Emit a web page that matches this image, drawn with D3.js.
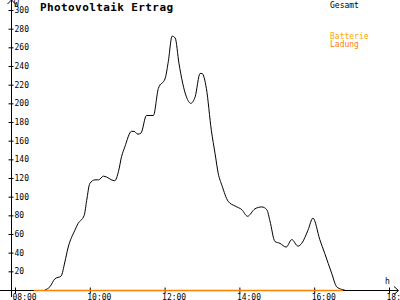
<!DOCTYPE html>
<html>
<head>
<meta charset="utf-8">
<style>
  body { margin: 0; background: #fff; }
  svg { display: block; }
  text { font-family: "DejaVu Sans Mono", monospace; }
</style>
</head>
<body>
<div id="graph"></div>
<script src="https://d3js.org/d3.v7.min.js"></script>
<script>
// Daten
const zeiten = ["08:48","08:56","09:04","09:14","09:20","09:25","09:36","09:41","09:51","09:55",
  "10:00","10:08","10:14","10:22","10:40","10:46","10:51","10:56","11:07","11:11",
  "11:17","11:22","11:31","11:42","11:50","12:01","12:06","12:12","12:17","12:23",
  "12:35","12:42","12:49","12:57","13:00","13:07","13:15","13:21","13:26","13:32",
  "13:42","13:53","14:04","14:13","14:25","14:36","14:44","14:49","14:57","15:05",
  "15:15","15:24","15:34","15:40","15:50","15:58","16:09","16:17","16:28","16:36",
  "16:44","16:49"];
const gesamt = [0,3.5,12,15,30,45,64,71,80,96,
  114,118,118,122,117,127,143,153,170,170,
  167,168,187,187,216,227,245,272,270,243,
  207,200,207,232,232,216,171,146,125,112,
  95,90,86,79,87,89,86,74,52,50,
  46,54,47,50,64,77,54,39,18,3.5,
  0.7,0];
const ladungZeiten = ["08:30","16:46"];
const ladung = [0, 0];
const xTicks = ["08:00","10:00","12:00","14:00","16:00","18:00"];
const yTicks = [20,40,60,80,100,120,140,160,180,200,220,240,260,280,300];

const W = 400, H = 300;
const parse = d3.timeParse("%H:%M");

const x = d3.scaleTime()
  .domain([parse("08:00"), parse("18:00")])
  .range([15, 389]);
const y = d3.scaleLinear()
  .domain([0, 300])
  .range([290, 10]);

const svg = d3.select("#graph").append("svg")
  .attr("width", W).attr("height", H);

// Achsen
svg.append("line").attr("x1", 0).attr("x2", 398).attr("y1", 290.5).attr("y2", 290.5)
  .attr("stroke", "#000");
svg.append("path").attr("d", "M394,286.5L398.5,290.5L394,294.5")
  .attr("fill", "none").attr("stroke", "#000");
svg.append("line").attr("x1", 11.5).attr("x2", 11.5).attr("y1", 297).attr("y2", 0)
  .attr("stroke", "#000");
svg.append("path").attr("d", "M7.5,4L11.5,0L15.5,4")
  .attr("fill", "none").attr("stroke", "#000");

const xAxis = svg.append("g")
  .attr("transform", "translate(0,290.5)")
  .call(d3.axisBottom(x)
    .tickValues(xTicks.map(parse))
    .tickFormat(d3.timeFormat("%H:%M"))
    .tickSize(3));
xAxis.select(".domain").remove();
xAxis.selectAll(".tick line").attr("y1", -3).attr("y2", 3).attr("stroke", "#000");
xAxis.selectAll(".tick text")
  .attr("font-family", "DejaVu Sans Mono").attr("font-size", 8)
  .attr("text-anchor", "start").attr("x", -3).attr("y", 3).attr("dy", "0.75em")
  .attr("fill", "#000");

const yAxis = svg.append("g")
  .attr("transform", "translate(11.5,0)")
  .call(d3.axisRight(y).tickValues(yTicks).tickSize(2).tickFormat(d3.format("d")));
yAxis.select(".domain").remove();
yAxis.selectAll(".tick line").attr("x1", -3).attr("x2", 2).attr("stroke", "#000");
yAxis.selectAll(".tick text")
  .attr("font-family", "DejaVu Sans Mono").attr("font-size", 8)
  .attr("x", 3).attr("fill", "#000");

// Einheiten
svg.append("text").attr("x", 14).attr("y", 7).attr("font-size", 8).text("W");
svg.append("text").attr("x", 385).attr("y", 284).attr("font-size", 8).text("h");

// Titel
svg.append("text").attr("x", 40).attr("y", 11)
  .attr("font-size", 11).attr("font-weight", "bold").attr("letter-spacing", 0.4)
  .text("Photovoltaik Ertrag");

// Legende
svg.append("text").attr("x", 330).attr("y", 7.5).attr("font-size", 8).attr("fill", "#000").text("Gesamt");
svg.append("text").attr("x", 330).attr("y", 39).attr("font-size", 8).attr("fill", "#ffa500").text("Batterie");
svg.append("text").attr("x", 330).attr("y", 46.5).attr("font-size", 8).attr("fill", "#ff8000").text("Ladung");

// Linien
const line = d3.line()
  .x(d => x(d[0]))
  .y(d => y(d[1]))
  .curve(d3.curveMonotoneX);

svg.append("path")
  .datum(zeiten.map((t, i) => [parse(t), gesamt[i]]))
  .attr("d", line)
  .attr("fill", "none").attr("stroke", "#000").attr("stroke-width", 1);

svg.append("path")
  .datum(ladungZeiten.map((t, i) => [parse(t), ladung[i]]))
  .attr("d", d3.line().x(d => x(d[0])).y(d => y(d[1]) + 0.5))
  .attr("fill", "none").attr("stroke", "#ff8000").attr("stroke-width", 1.5);
</script>
</body>
</html>
